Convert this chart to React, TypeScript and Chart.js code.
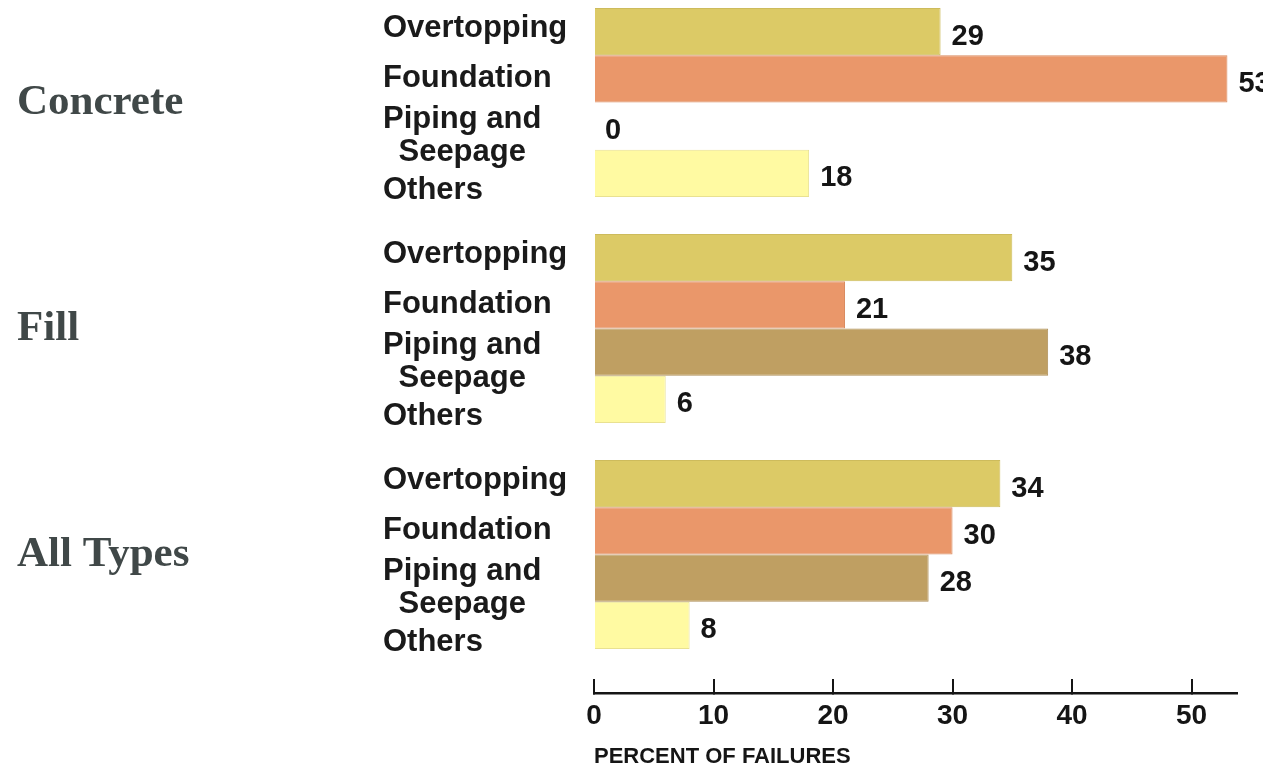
import React, { useEffect, useRef } from "react";
import { Chart, registerables } from "chart.js";

Chart.register(...registerables);

// Dam types (one group of bars each) and failure modes (one dataset each)
const damTypes = ["Concrete", "Fill", "All Types"];
const failureModes = ["Overtopping", "Foundation", "Piping and\nSeepage", "Others"];

// Percent of failures per dam type: Concrete, Fill, All Types
const overtopping = [29, 35, 34];
const foundation = [53, 21, 30];
const pipingSeepage = [0, 38, 28];
const others = [18, 6, 8];

const percentTicks = [0, 10, 20, 30, 40, 50];
const axisTitle = "PERCENT OF FAILURES";

const fills = ["#DCCA66", "#EA976A", "#BF9F62", "#FFFAA2"];
const edges = ["#CDBB5C", "#DA8A5F", "#AE8F57", "#E9E191"];

const SANS = '"Liberation Sans", Arial, sans-serif';
const SERIF = '"Liberation Serif", "Times New Roman", serif';

// Baseline offsets (px, from bar centre) of each failure-mode caption line
const captionBaselines = [[5], [8.5], [2, 35], [25.5]];
const CAPTION_INSET = 211;

const barCaptions = {
  id: "barCaptions",
  afterDatasetsDraw(chart: any) {
    const { ctx, chartArea } = chart;
    ctx.save();
    chart.data.datasets.forEach((ds: any, di: number) => {
      const meta = chart.getDatasetMeta(di);
      meta.data.forEach((bar: any, j: number) => {
        const { x, y } = bar.getProps(["x", "y"], true);

        // value next to the bar end
        ctx.font = `bold 29px ${SANS}`;
        ctx.fillStyle = "#151515";
        ctx.textAlign = "left";
        ctx.textBaseline = "alphabetic";
        ctx.fillText(String(ds.data[j]), x + 11, y + 13);

        // failure-mode caption left of the bars
        ctx.font = `bold 31px ${SANS}`;
        ctx.fillStyle = "#1a1a1a";
        const lines = failureModes[di].split("\n");
        const lx = chartArea.left - CAPTION_INSET;
        const firstWidth = ctx.measureText(lines[0]).width;
        lines.forEach((line, li) => {
          const off = captionBaselines[di][li];
          if (li === 0) {
            ctx.textAlign = "left";
            ctx.fillText(line, lx, y + off);
          } else {
            ctx.textAlign = "center";
            ctx.fillText(line, lx + firstWidth / 2, y + off);
          }
        });
      });
    });
    ctx.restore();
  },
};

export default function App() {
  const canvasRef = useRef<HTMLCanvasElement | null>(null);

  useEffect(() => {
    if (!canvasRef.current) return;
    const series = [overtopping, foundation, pipingSeepage, others];
    const chart = new Chart(canvasRef.current, {
      type: "bar",
      data: {
        labels: damTypes.map((_, i) => i),
        datasets: failureModes.map((mode, i) => ({
          label: mode.replace("\n", " "),
          data: series[i],
          backgroundColor: fills[i],
          borderColor: edges[i],
          borderWidth: 1,
          borderSkipped: "start",
          categoryPercentage: 0.836,
          barPercentage: 1,
        })),
      },
      options: {
        indexAxis: "y",
        responsive: false,
        animation: false,
        layout: { padding: { left: 17, top: 8, right: 63, bottom: 0 } },
        plugins: {
          legend: { display: false },
          tooltip: { enabled: false },
        },
        scales: {
          y: {
            type: "linear",
            reverse: true,
            offset: false,
            min: -0.418,
            max: 2.613,
            ticks: {
              stepSize: 1,
              includeBounds: false,
              crossAlign: "far",
              padding: 0,
              color: "#404848",
              font: { family: SERIF, size: 43, weight: "bold" },
              callback: (v: any) => damTypes[Math.round(Number(v))] ?? "",
            },
            grid: { display: false, offset: false },
            border: { display: false },
            afterFit: (s: any) => {
              s.width = 577;
              s.paddingTop = 0;
              s.paddingBottom = 0;
            },
          },
          x: {
            type: "linear",
            position: "bottom",
            min: 0,
            max: 53.8,
            afterBuildTicks: (s: any) => {
              s.ticks = percentTicks.map((v) => ({ value: v }));
            },
            ticks: {
              padding: 20,
              color: "#151515",
              font: { family: SANS, size: 28, weight: "bold" },
            },
            grid: {
              drawOnChartArea: false,
              drawTicks: true,
              tickLength: -14,
              color: "#151515",
              lineWidth: 2,
            },
            border: { display: true, color: "#151515", width: 2.5 },
            title: {
              display: true,
              text: axisTitle,
              align: "start",
              color: "#151515",
              padding: 0,
              font: { family: SANS, size: 22, weight: "bold" },
            },
            afterFit: (s: any) => {
              s.height = 77;
              s.paddingLeft = 0;
              s.paddingRight = 0;
            },
          },
        },
      },
      plugins: [barCaptions],
    } as any);
    return () => chart.destroy();
  }, []);

  return (
    <div
      style={{
        position: "fixed",
        left: 0,
        top: 0,
        width: "100vw",
        height: "100vh",
        overflow: "hidden",
        background: "#ffffff",
      }}
    >
      <canvas
        ref={canvasRef}
        width={1300}
        height={770}
        style={{ position: "absolute", left: 0, top: 0, display: "block" }}
      />
    </div>
  );
}
